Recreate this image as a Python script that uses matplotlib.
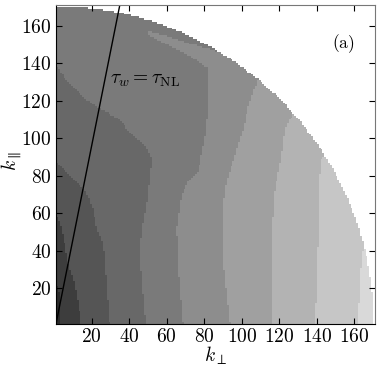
import numpy as np
import matplotlib
matplotlib.use("Agg")
import matplotlib.pyplot as plt
from matplotlib.path import Path
from matplotlib.colors import ListedColormap
from matplotlib.ticker import FuncFormatter

plt.rcParams['mathtext.fontset'] = 'cm'
plt.rcParams['font.family'] = ['DejaVu Serif']

kmax = 170
ticks = [20, 40, 60, 80, 100, 120, 140, 160]

# boundaries between grey levels as (k_perp, k_par)
edge0 = [(3.5, 0), (3.3, 10), (2.5, 18), (1, 22), (0, 24)]
edge1 = [(14.5, 0), (13, 12), (10.5, 24), (7.5, 33), (5.5, 44), (4, 51), (2.5, 56), (0, 60)]
edge2 = [(29.7, 0), (28.2, 17), (27, 35), (26, 44), (22.5, 53), (20.7, 62), (17.2, 71),
         (10, 78), (4.6, 83.5), (0, 89)]
edge3 = [(49, 0), (47.5, 17), (46, 35), (46.7, 52), (49, 62), (51, 79), (52, 89), (48, 97),
         (43, 100), (38, 106), (33, 111), (24, 116), (15, 122), (8, 129), (0, 140)]
edge4 = [(68.7, 0), (67.2, 17), (65.8, 35), (65.4, 52), (68, 70), (70.8, 76), (77, 83),
         (78, 89), (80.6, 101), (82.4, 119), (82.3, 137), (72, 144), (62, 149), (50, 155),
         (50, 157), (62, 154), (74, 150), (88, 146)]
edge5 = [(93.7, 0), (92, 15), (90.5, 30), (89.5, 45), (89.5, 55), (90.5, 68), (92, 78),
         (95.8, 89), (101, 106), (103, 116), (106, 125), (109, 132)]
edge6 = [(116, 0), (116, 20), (116, 50), (117.3, 71), (121, 89), (122, 98), (123.5, 106),
         (128, 114)]
edge7 = [(139, 0), (140, 24), (140.5, 42), (140.5, 71), (142.3, 89), (144, 91)]
edge8 = [(162, 0), (163, 24), (164, 38), (165, 42)]
edges = [edge0, edge1, edge2, edge3, edge4, edge5, edge6, edge7, edge8]

greys = [0x2b, 0x3d, 0x55, 0x68, 0x7a, 0x8d, 0xa0, 0xb3, 0xc6, 0xd9]

line_slope = 5.0


def region(edge):
    # area to the right / above one boundary
    pts = [(edge[0][0], -50)] + list(edge)
    if edge[-1][0] <= 0:
        pts += [(-50, edge[-1][1]), (-50, 300)]
    else:
        pts += [(edge[-1][0], 300)]
    pts += [(300, 300), (300, -50)]
    return Path(pts)


kc = np.arange(1, kmax + 1) + 0.5
KP, KZ = np.meshgrid(kc, kc)
xy = np.column_stack([KP.ravel(), KZ.ravel()])
level = np.zeros(len(xy))
for e in edges:
    level += region(e).contains_points(xy)
level = level.reshape(KP.shape)
level = np.ma.masked_where(np.hypot(KP, KZ) > kmax + 0.5, level)

cmap = ListedColormap([(g / 255, g / 255, g / 255) for g in greys])
cmap.set_bad('white')

fig = plt.figure(figsize=(3.81, 3.69), dpi=100)
ax = fig.add_axes([0.147, 0.122, 0.837, 0.864])
ax.imshow(level, origin='lower', extent=(1, kmax + 1, 1, kmax + 1), cmap=cmap,
          vmin=-0.5, vmax=len(greys) - 0.5, interpolation='nearest', aspect='auto')

kl = np.array([1, 40])
ax.plot(kl, 1 + (kl - 1) * line_slope, c='k', lw=1)

ax.set_xlim(1, kmax + 1)
ax.set_ylim(1, kmax + 1)
ax.set_xticks(ticks)
ax.set_yticks(ticks)
fmt = FuncFormatter(lambda v, p: r'$%d$' % v)
ax.xaxis.set_major_formatter(fmt)
ax.yaxis.set_major_formatter(fmt)
ax.tick_params(direction='in', top=True, right=True, length=4, width=0.8, labelsize=14,
               pad=3)
for s in ['top', 'right']:
    ax.spines[s].set_color('#777777')

ax.set_xlabel(r'$k_\perp$', fontsize=14, labelpad=-1)
ax.set_ylabel(r'$k_\parallel$', fontsize=14)
ax.yaxis.set_label_coords(-0.10, 0.51)

ax.text(0.17, 0.765, r'$\tau_w = \tau_{\rm NL}$', transform=ax.transAxes, fontsize=14,
        va='center')
ax.text(0.90, 0.88, r'$\rm (a)$', transform=ax.transAxes, fontsize=12.5, ha='center',
        va='center')

fig.savefig('out.png', dpi=100)
